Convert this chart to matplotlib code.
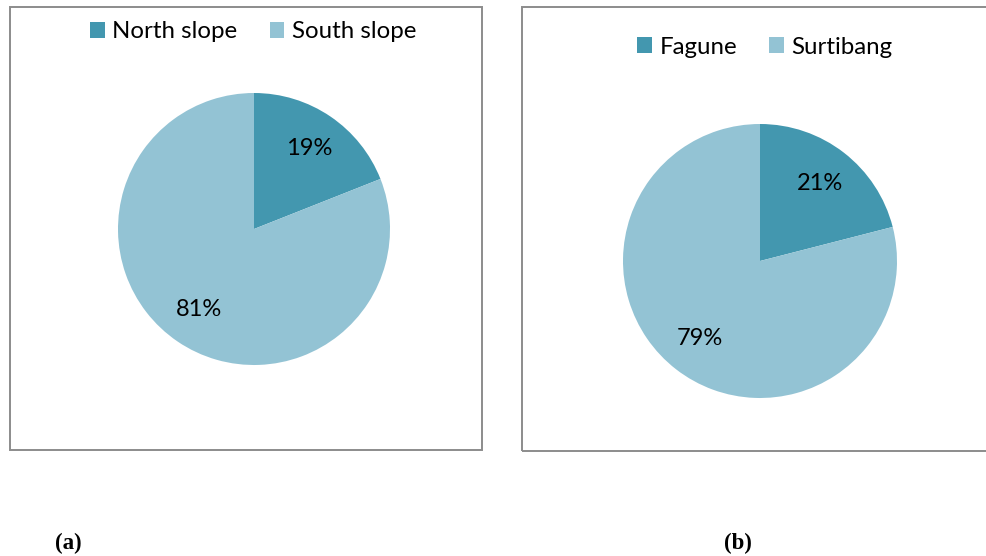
#!/usr/bin/env python3
"""Slope / village share pies, panels (a) and (b)."""
import matplotlib
matplotlib.use("Agg")
import matplotlib.pyplot as plt
from matplotlib.patches import Rectangle

W, H = 987, 556

slope_labels = ["North slope", "South slope"]
slope_share = [19, 81]
village_labels = ["Fagune", "Surtibang"]
village_share = [21, 79]

DARK = "#4397AF"
LIGHT = "#93C3D4"

fig = plt.figure(figsize=(W / 100, H / 100), dpi=100)
fig.patch.set_facecolor("white")


def px_axes(cx, cy, r):
    # axes box in pixel coords (top-left origin) -> figure fraction
    return fig.add_axes([(cx - r) / W, (H - cy - r) / H, 2 * r / W, 2 * r / H])


def panel(x0, y0, x1, y1):
    fig.patches.append(Rectangle((x0 / W, (H - y1) / H), (x1 - x0) / W, (y1 - y0) / H,
                                 transform=fig.transFigure, fill=False,
                                 edgecolor="#8c8c8c", lw=1.4))


panel(10, 7, 482, 450)
panel(522, 7, 1000, 451)

panes = [
    (slope_labels, slope_share, (254, 229, 136), (253, 32)),
    (village_labels, village_share, (760, 261, 137), (765, 47)),
]
for labels, share, (cx, cy, r), (lx, ly) in panes:
    ax = px_axes(cx, cy, r)
    wedges, _, _ = ax.pie(share, colors=[DARK, LIGHT], startangle=90, counterclock=False,
                          autopct=lambda p: f"{p:.0f}%", pctdistance=0.72,
                          textprops=dict(fontsize=17, family="Lato", color="black"),
                          wedgeprops=dict(linewidth=0))
    ax.set_xlim(-1, 1); ax.set_ylim(-1, 1)
    fig.legend(wedges, labels, loc="center", bbox_to_anchor=(lx / W, 1 - ly / H),
               ncol=2, frameon=False, prop=dict(family="Lato", size=17.3),
               handlelength=0.62, handleheight=0.62, handletextpad=0.3,
               columnspacing=1.35, borderpad=0)

fig.text(68 / W, 1 - 543 / H, "(a)", ha="center", va="center",
         family="Liberation Serif", weight="bold", fontsize=16.5)
fig.text(738 / W, 1 - 543 / H, "(b)", ha="center", va="center",
         family="Liberation Serif", weight="bold", fontsize=16.5)

fig.savefig("out.png", dpi=100)
